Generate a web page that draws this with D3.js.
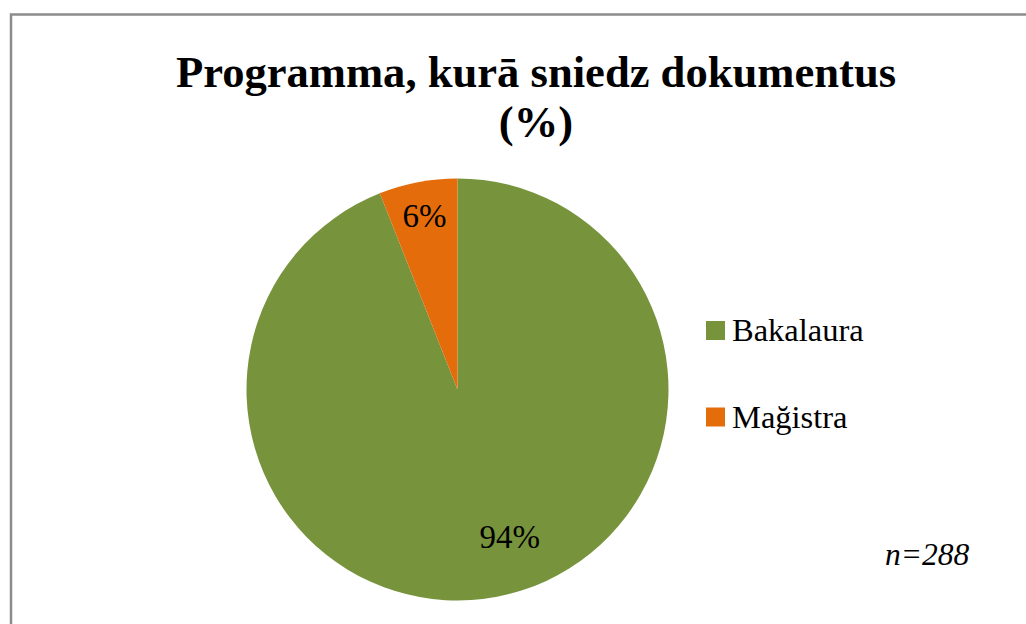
<!DOCTYPE html>
<html>
<head>
<meta charset="utf-8">
<script src="https://cdn.jsdelivr.net/npm/d3@7"></script>
<style>
  body { margin: 0; background: #fff; }
</style>
</head>
<body>
<div id="chart"></div>
<script>
// data
var categories = ["Bakalaura", "Mağistra"];
var values = [94, 6];
var colors = ["#77933c", "#e46c0a"];
var titleLines = ["Programma, kurā sniedz dokumentus", "(%)"];
var note = "n=288";

var W = 1026, H = 624;
var cx = 457.5, cy = 389.5, r = 211;
var serif = "'Liberation Serif'";

var svg = d3.select("#chart").append("svg")
  .attr("width", W)
  .attr("height", H);

// outer frame (right and bottom edge sit outside the picture)
svg.append("rect")
  .attr("x", 11).attr("y", 14.5)
  .attr("width", W + 20).attr("height", H + 20)
  .attr("fill", "#fff")
  .attr("stroke", "#8c8c8c")
  .attr("stroke-width", 2.5);

// title
svg.selectAll(".title")
  .data(titleLines)
  .enter().append("text")
  .attr("class", "title")
  .attr("x", 536)
  .attr("y", (d, i) => 87 + i * 50)
  .attr("text-anchor", "middle")
  .style("font-family", serif)
  .style("font-size", "44.6px")
  .style("font-weight", "bold")
  .text(d => d);

var pie = d3.pie().sort(null).value(d => d);
var arcs = pie(values);
var arc = d3.arc().innerRadius(0).outerRadius(r);

var g = svg.append("g").attr("transform", `translate(${cx},${cy})`);

g.selectAll("path")
  .data(arcs)
  .enter().append("path")
  .attr("d", arc)
  .attr("fill", (d, i) => colors[i]);

// data labels: where along the slice and how far out
var labelFrac = [0.474, 0.5];
var labelRad = [0.74, 0.835];
g.selectAll(".lbl")
  .data(arcs)
  .enter().append("text")
  .attr("class", "lbl")
  .attr("x", function (d, i) {
    var a = d.startAngle + labelFrac[i] * (d.endAngle - d.startAngle);
    return Math.sin(a) * labelRad[i] * r;
  })
  .attr("y", function (d, i) {
    var a = d.startAngle + labelFrac[i] * (d.endAngle - d.startAngle);
    return -Math.cos(a) * labelRad[i] * r + 11;
  })
  .attr("text-anchor", "middle")
  .style("font-family", serif)
  .style("font-size", "33px")
  .text(d => d.value + "%");

// legend
var leg = svg.selectAll(".leg")
  .data(categories)
  .enter().append("g")
  .attr("class", "leg")
  .attr("transform", (d, i) => `translate(706,${321 + i * 86.5})`);

leg.append("rect")
  .attr("width", 19).attr("height", 19)
  .attr("fill", (d, i) => colors[i]);

leg.append("text")
  .attr("x", 26).attr("y", 20)
  .style("font-family", serif)
  .style("font-size", "32.5px")
  .text(d => d);

// sample size
svg.append("text")
  .attr("x", 885).attr("y", 565)
  .style("font-family", serif)
  .style("font-size", "31.5px")
  .style("font-style", "italic")
  .text(note);
</script>
</body>
</html>
